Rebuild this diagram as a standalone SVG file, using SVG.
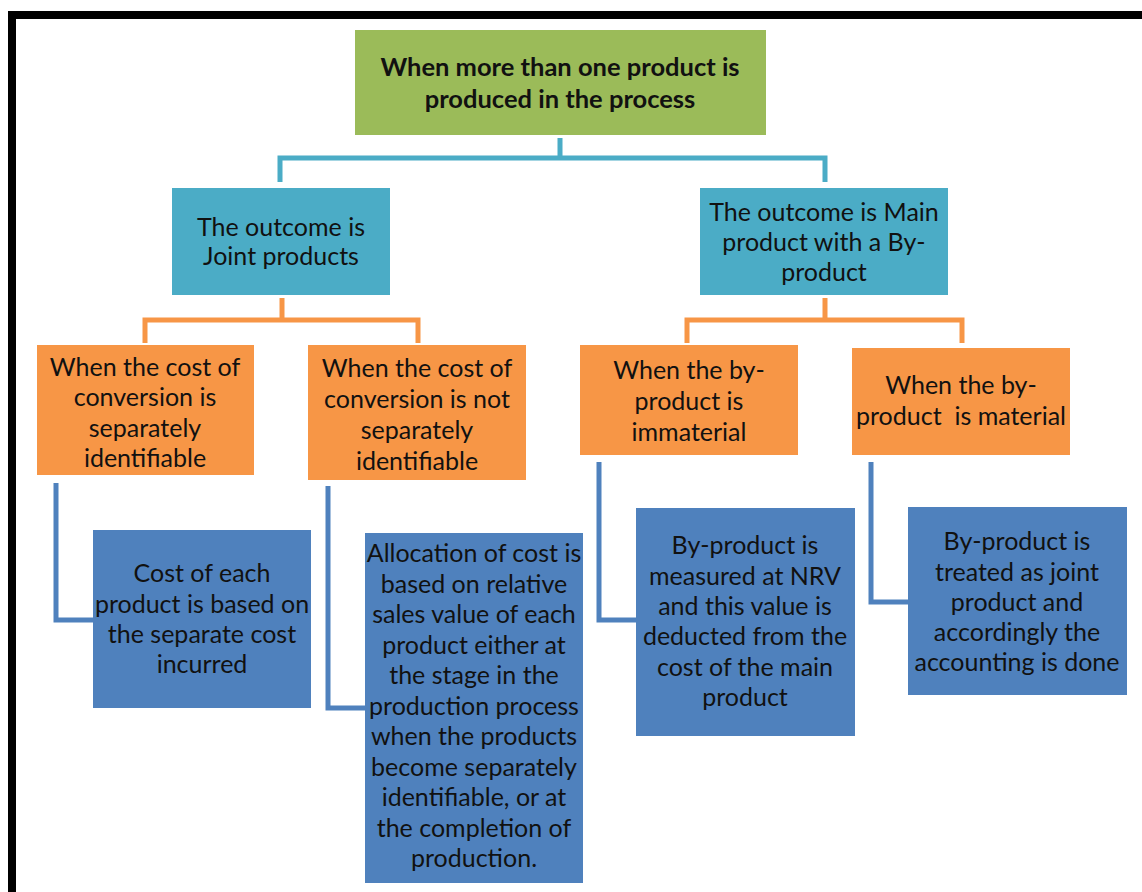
<svg xmlns="http://www.w3.org/2000/svg" width="1142" height="892" viewBox="0 0 1142 892">
  <style>
    .t { font-family: Lato, "Liberation Sans", sans-serif; font-size: 25px; fill: #111; text-anchor: middle; }
    .tb { font-family: Lato, "Liberation Sans", sans-serif; font-size: 25.5px; font-weight: bold; fill: #111; text-anchor: middle; }
    .green { fill: #9BBB59; }
    .teal { fill: #4BACC6; }
    .orange { fill: #F79646; }
    .blue { fill: #4F81BD; }
    .c-teal { fill: none; stroke: #4BACC6; stroke-width: 5; }
    .c-orange { fill: none; stroke: #F79646; stroke-width: 5; }
    .c-blue { fill: none; stroke: #4F81BD; stroke-width: 5; }
  </style>

  <rect x="0" y="0" width="1142" height="892" fill="#fff"/>
  <!-- outer frame -->
  <rect x="12" y="15" width="1160" height="900" fill="none" stroke="#000" stroke-width="8"/>

  <g id="connectors">
    <path class="c-teal" d="M560 138 V158 M280 182 V158 H825 V182"/>
    <path class="c-orange" d="M282 298 V320 M145 343 V320 H418 V343"/>
    <path class="c-orange" d="M825 298 V320 M687 343 V320 H962 V343"/>
    <path class="c-blue" d="M56 483 V620 H93"/>
    <path class="c-blue" d="M328 486 V708 H365"/>
    <path class="c-blue" d="M599 462 V620 H636"/>
    <path class="c-blue" d="M871 462 V602 H908"/>
  </g>

  <g id="root">
    <rect class="green" x="355" y="30" width="411" height="105"/>
    <text class="tb" x="560" y="76">When more than one product is</text>
    <text class="tb" x="560" y="108">produced in the process</text>
  </g>

  <g id="joint">
    <rect class="teal" x="172" y="188" width="218" height="107"/>
    <text class="t" x="281" y="236">The outcome is</text>
    <text class="t" x="281" y="265">Joint products</text>
  </g>

  <g id="byproduct">
    <rect class="teal" x="700" y="188" width="248" height="107"/>
    <text class="t" x="824" y="221">The outcome is Main</text>
    <text class="t" x="824" y="251">product with a By-</text>
    <text class="t" x="824" y="281">product</text>
  </g>

  <g id="sep-identifiable">
    <rect class="orange" x="37" y="345" width="217" height="130"/>
    <text class="t" x="145" y="376">When the cost of</text>
    <text class="t" x="145" y="406">conversion is</text>
    <text class="t" x="145" y="437">separately</text>
    <text class="t" x="145" y="467">identifiable</text>
  </g>

  <g id="not-identifiable">
    <rect class="orange" x="308" y="345" width="218" height="135"/>
    <text class="t" x="417" y="377">When the cost of</text>
    <text class="t" x="417" y="408">conversion is not</text>
    <text class="t" x="417" y="439">separately</text>
    <text class="t" x="417" y="470">identifiable</text>
  </g>

  <g id="immaterial">
    <rect class="orange" x="580" y="345" width="218" height="110"/>
    <text class="t" x="689" y="379">When the by-</text>
    <text class="t" x="689" y="410">product is</text>
    <text class="t" x="689" y="441">immaterial</text>
  </g>

  <g id="material">
    <rect class="orange" x="852" y="348" width="218" height="107"/>
    <text class="t" x="961" y="394">When the by-</text>
    <text class="t" x="961" y="425" xml:space="preserve">product  is material</text>
  </g>

  <g id="separate-cost">
    <rect class="blue" x="93" y="530" width="218" height="178"/>
    <text class="t" x="202" y="582">Cost of each</text>
    <text class="t" x="202" y="613">product is based on</text>
    <text class="t" x="202" y="643">the separate cost</text>
    <text class="t" x="202" y="673">incurred</text>
  </g>

  <g id="relative-sales-value">
    <rect class="blue" x="365" y="533" width="218" height="350"/>
    <text class="t" x="474" y="562">Allocation of cost is</text>
    <text class="t" x="474" y="593">based on relative</text>
    <text class="t" x="474" y="623">sales value of each</text>
    <text class="t" x="474" y="654">product either at</text>
    <text class="t" x="474" y="684">the stage in the</text>
    <text class="t" x="474" y="715">production process</text>
    <text class="t" x="474" y="745">when the products</text>
    <text class="t" x="474" y="776">become separately</text>
    <text class="t" x="474" y="806">identifiable, or at</text>
    <text class="t" x="474" y="837">the completion of</text>
    <text class="t" x="474" y="867">production.</text>
  </g>

  <g id="nrv">
    <rect class="blue" x="636" y="508" width="219" height="228"/>
    <text class="t" x="745" y="554">By-product is</text>
    <text class="t" x="745" y="585">measured at NRV</text>
    <text class="t" x="745" y="615">and this value is</text>
    <text class="t" x="745" y="645">deducted from the</text>
    <text class="t" x="745" y="676">cost of the main</text>
    <text class="t" x="745" y="706">product</text>
  </g>

  <g id="joint-treatment">
    <rect class="blue" x="908" y="507" width="219" height="188"/>
    <text class="t" x="1017" y="550">By-product is</text>
    <text class="t" x="1017" y="581">treated as joint</text>
    <text class="t" x="1017" y="611">product and</text>
    <text class="t" x="1017" y="641">accordingly the</text>
    <text class="t" x="1017" y="671">accounting is done</text>
  </g>
</svg>
